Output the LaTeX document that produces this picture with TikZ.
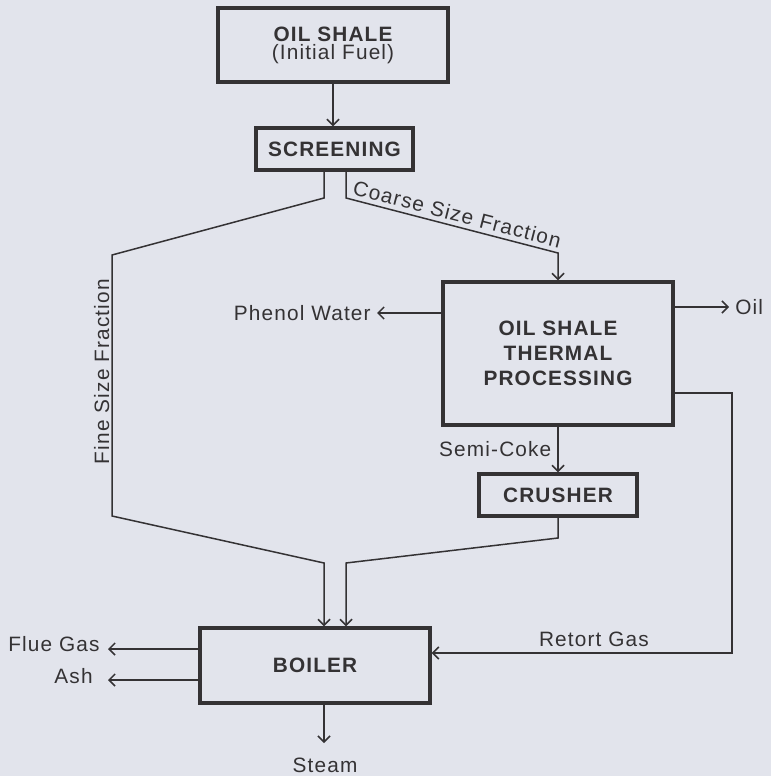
\documentclass[tikz,border=0pt]{standalone}
\usepackage{xcolor}
\usepackage{fontspec}
\setmainfont{Liberation Sans}[LetterSpace=5.5]
\usetikzlibrary{arrows.meta, calc, positioning}

\definecolor{paper}{RGB}{226,228,236}
\definecolor{ink}{RGB}{52,50,52}

\begin{document}
\begin{tikzpicture}[x=0.5pt, y=-0.5pt, >={Straight Barb[length=3pt, width=6pt]},
    font=\fontsize{10.4}{12.5}\selectfont,
    box/.style={draw=ink, line width=1.7pt, text=ink, font=\fontsize{10.4}{12.5}\selectfont\bfseries,
        align=center, inner sep=0pt},
    flow/.style={draw=ink, line width=0.75pt},
    lbl/.style={text=ink, inner sep=1pt}]

    % =================================================================
    % 1. KHUNG NEN
    % =================================================================
    \fill[paper] (0,0) rectangle (771,776);
    \useasboundingbox (0,0) rectangle (771,776);

    % =================================================================
    % 2. CAC KHOI CHINH
    % =================================================================
    \node[box, minimum width=115pt, minimum height=37pt,
          font=\fontsize{10.4}{9}\selectfont\bfseries] (shale) at (333,45)
        {OIL SHALE\\\mdseries(Initial Fuel)};
    \node[box, minimum width=78.5pt, minimum height=21pt] (screen) at (334.5,149) {SCREENING};
    \node[box, minimum width=115pt, minimum height=71.5pt] (thermal) at (558,353.5)
        {OIL SHALE\\THERMAL\\PROCESSING};
    \node[box, minimum width=79pt, minimum height=21pt] (crusher) at (558,495) {CRUSHER};
    \node[box, minimum width=115pt, minimum height=37.5pt] (boiler) at (315,665.5) {BOILER};

    % Cac diem gay cua duong noi
    \coordinate (scrL) at (324,198);
    \coordinate (scrR) at (346,198);
    \coordinate (fineTop) at (112,255);
    \coordinate (fineBot) at (112,516);
    \coordinate (fineIn) at (324,563);
    \coordinate (coarseIn) at (558,253);
    \coordinate (crushBend) at (558,538);
    \coordinate (crushIn) at (346,563);
    \coordinate (retA) at (732,393);
    \coordinate (retB) at (732,653);
    \coordinate (flueTip) at (108,649);
    \coordinate (ashTip) at (108,680);
    \coordinate (steamTip) at (324,743);

    % Nhan dau ra
    \node[lbl, inner sep=3pt, anchor=west] (oil) at (729,307) {Oil};
    \node[lbl, inner sep=3pt, anchor=east] (phenol) at (377,313) {Phenol Water};
    \node[lbl, anchor=east] (flue) at (102,644) {Flue Gas};
    \node[lbl, anchor=east] (ash) at (95,676) {Ash};
    \node[lbl] (steam) at (325,765) {Steam};

    % =================================================================
    % 3. CAC DUONG NOI
    % =================================================================
    \draw[flow, ->] (shale.south) -- (shale.south |- screen.north);

    % Phan hat min di thang vao lo hoi
    \draw[flow, ->] (scrL |- screen.south) -- (scrL) -- (fineTop)
        -- node[lbl, rotate=90, above=3pt, pos=0.47] {Fine Size Fraction} (fineBot)
        -- (fineIn) -- (fineIn |- boiler.north);

    % Phan hat tho vao che bien nhiet
    \draw[flow, ->] (scrR |- screen.south) -- (scrR)
        -- node[lbl, sloped, above=1pt, pos=0.51] {Coarse Size Fraction} (coarseIn) -- (thermal.north);

    \draw[flow, ->] (oil.west -| thermal.east) -- (oil.west);
    \draw[flow, ->] (phenol.east -| thermal.west) -- (phenol.east);

    \draw[flow, ->] (thermal.south) -- node[lbl, left=2pt] {Semi-Coke} (crusher.north);
    \draw[flow, ->] (crusher.south) -- (crushBend) -- (crushIn) -- (crushIn |- boiler.north);

    % Khi chung cat
    \draw[flow, ->] (thermal.east |- retA) -- (retA) -- (retB)
        -- node[lbl, above=2pt, pos=0.46] {Retort Gas} (retB -| boiler.east);

    \draw[flow, ->] (boiler.west |- flueTip) -- (flueTip);
    \draw[flow, ->] (boiler.west |- ashTip) -- (ashTip);
    \draw[flow, ->] (boiler.south -| steamTip) -- (steamTip);

\end{tikzpicture}
\end{document}
